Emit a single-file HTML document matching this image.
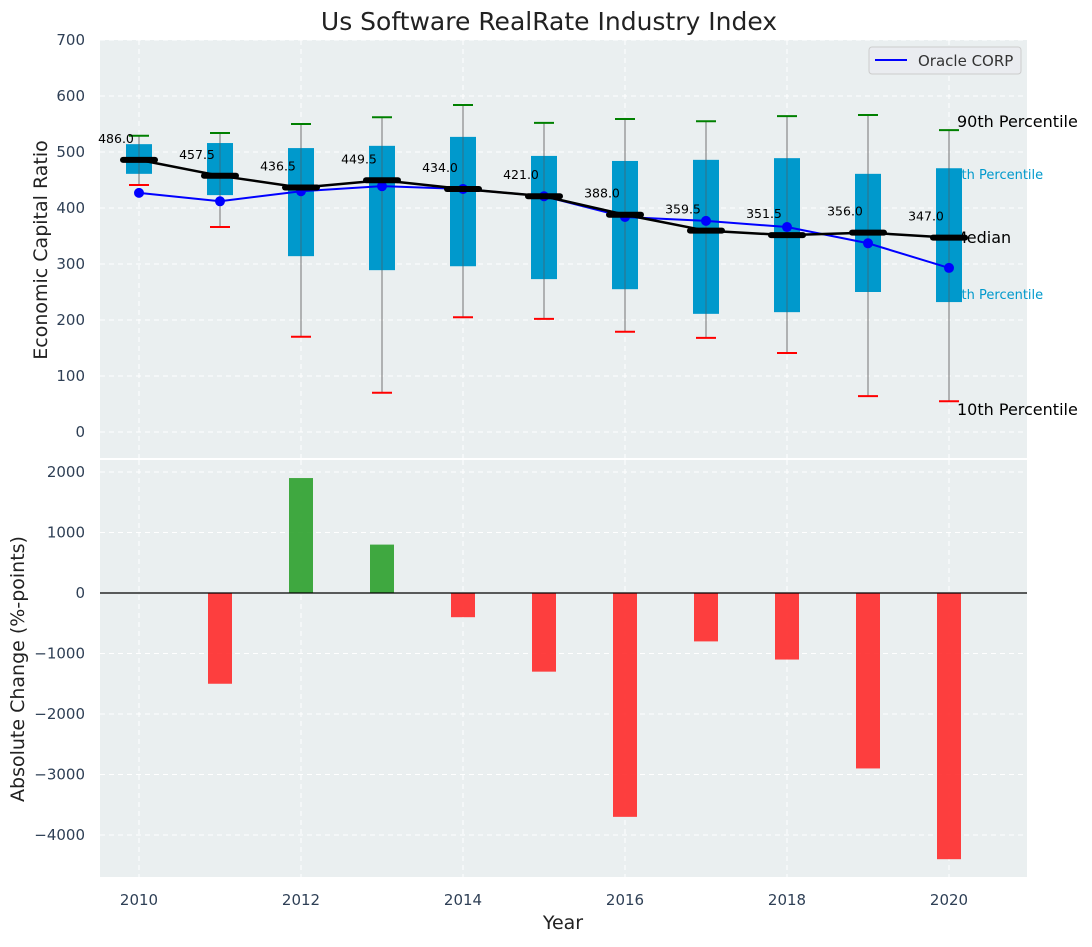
<!DOCTYPE html>
<html><head><meta charset="utf-8"><style>
body{margin:0;background:#fff;font-family:"Liberation Sans","DejaVu Sans",sans-serif}
svg text{font-family:"DejaVu Sans","Liberation Sans",sans-serif}
</style></head><body>
<svg id="chart" width="1092" height="942" xmlns="http://www.w3.org/2000/svg">
<rect x="0" y="0" width="1092" height="942" fill="#fff"/>
<text x="549" y="30" font-size="25" text-anchor="middle" fill="#222">Us Software RealRate Industry Index</text>
<rect x="100" y="40" width="927" height="418" fill="#eaeff0"/>
<rect x="100" y="460" width="927" height="417" fill="#eaeff0"/>
<g id="grid"></g>
<g id="top"></g>
<g id="bottom"></g>
<g id="ticks"></g>
<text transform="translate(47,250) rotate(-90)" font-size="19" text-anchor="middle" fill="#222">Economic Capital Ratio</text>
<text transform="translate(24,669) rotate(-90)" font-size="19" text-anchor="middle" fill="#222">Absolute Change (%-points)</text>
<text x="563" y="929" font-size="19" text-anchor="middle" fill="#222">Year</text>
<g>
<rect x="869" y="47" width="152" height="27" rx="3" fill="#eaecf0" stroke="#ccc"/>
<line x1="875" y1="60" x2="907" y2="60" stroke="#0000ff" stroke-width="2"/>
<text x="918" y="66" font-size="15" fill="#333">Oracle CORP</text>
</g>
</svg>
<script>
const years=[2010,2011,2012,2013,2014,2015,2016,2017,2018,2019,2020];
const p90=[529,534,550,562,584,552,559,555,564,566,539];
const p75=[514,516,507,511,527,493,484,486,489,461,471];
const medians=[486.0,457.5,436.5,449.5,434.0,421.0,388.0,359.5,351.5,356.0,347.0];
const p25=[461,423,314,289,296,273,255,211,214,250,232];
const p10=[441,366,170,70,205,202,179,168,141,64,55];
const oracle=[427,412,430,439,434,421,384,377,366,337,293];
const changes=[0,-1500,1900,800,-400,-1300,-3700,-800,-1100,-2900,-4400];
const topTicks=[0,100,200,300,400,500,600,700];
const botTicks=[-4000,-3000,-2000,-1000,0,1000,2000];
const xTicks=[2010,2012,2014,2016,2018,2020];
const NS="http://www.w3.org/2000/svg";
const X=v=>139+(v-2010)*81;
const Y1=v=>432-v*0.56;
const Y2=v=>593-v*0.0605;
function mk(parent,tag,attrs,text){const e=document.createElementNS(NS,tag);for(const k in attrs)e.setAttribute(k,attrs[k]);if(text!==undefined)e.textContent=text;document.getElementById(parent).appendChild(e);return e;}
xTicks.forEach(t=>{
 let g=mk('grid','line',{x1:X(t),x2:X(t),y1:40,y2:458,stroke:'#fff','stroke-dasharray':'5,4','stroke-width':1});
 
 
 g=mk('grid','line',{x1:X(t),x2:X(t),y1:460,y2:877,stroke:'#fff','stroke-dasharray':'5,4','stroke-width':1});
 
 
 const l=mk('ticks','text',{x:X(t),y:905,'font-size':15,'text-anchor':'middle',fill:'#2e3f55'},String(t));
 
 
});
topTicks.forEach(t=>{
 const g=mk('grid','line',{x1:100,x2:1027,y1:Y1(t),y2:Y1(t),stroke:'#fff','stroke-dasharray':'5,4'});
 
 
 const l=mk('ticks','text',{x:85,y:Y1(t)+5,'font-size':15,'text-anchor':'end',fill:'#2e3f55'},String(t));
 
 
});
botTicks.forEach(t=>{
 const g=mk('grid','line',{x1:100,x2:1027,y1:Y2(t),y2:Y2(t),stroke:'#fff','stroke-dasharray':'5,4'});
 
 
 const l=mk('ticks','text',{x:85,y:Y2(t)+5,'font-size':15,'text-anchor':'end',fill:'#2e3f55'},String(t).replace('-','\u2212'));
 
 
});
const ann=[['90th Percentile',957,127,16,'#000'],['75th Percentile',945,179,13,'#0099cc'],['Median',953,243,16,'#000'],['25th Percentile',945,299,13,'#0099cc'],['10th Percentile',957,415,16,'#000']];
ann.forEach(a=>{const t=mk('top','text',{x:a[1],y:a[2],'font-size':a[3],fill:a[4]},a[0]);
 
 });
years.forEach((yr,i)=>{
 const x=X(yr);
 const w=mk('top','line',{x1:x,x2:x,y1:Y1(p90[i]),y2:Y1(p10[i]),stroke:'#888','stroke-width':1.2});
 
 
 const b=mk('top','rect',{x:x-13,y:Y1(p75[i]),width:26,height:Y1(p25[i])-Y1(p75[i]),fill:'#0099cc'});
 
 
 const w2=mk('top','line',{x1:x,x2:x,y1:Y1(p75[i]),y2:Y1(p25[i]),stroke:'#555','stroke-width':1,opacity:0.6});
 
 
 const c1=mk('top','line',{x1:x-10,x2:x+10,y1:Y1(p90[i]),y2:Y1(p90[i]),stroke:'#008000','stroke-width':2});
 
 
 const c2=mk('top','line',{x1:x-10,x2:x+10,y1:Y1(p10[i]),y2:Y1(p10[i]),stroke:'#ff0000','stroke-width':2});
 
 
});
const op=mk('top','polyline',{points:years.map((y,i)=>X(y)+','+Y1(oracle[i])).join(' '),fill:'none',stroke:'#0000ff','stroke-width':2});


years.forEach((y,i)=>{const c=mk('top','circle',{cx:X(y),cy:Y1(oracle[i]),r:5,fill:'#0000ff'});
 
 });
const mp=mk('top','polyline',{points:years.map((y,i)=>X(y)+','+Y1(medians[i])).join(' '),fill:'none',stroke:'#000','stroke-width':2.5});


years.forEach((y,i)=>{
 const m=mk('top','line',{x1:X(y)-16,x2:X(y)+16,y1:Y1(medians[i]),y2:Y1(medians[i]),stroke:'#000','stroke-width':6,'stroke-linecap':'round'});
 
 
 const t=mk('top','text',{x:X(y)-23,y:Y1(medians[i])-17,'font-size':12.5,'text-anchor':'middle',fill:'#000'},medians[i].toFixed(1));
 
 
});
years.forEach((y,i)=>{
 const v=changes[i]; if(v===0)return;
 const r=mk('bottom','rect',{x:X(y)-12,y:Math.min(Y2(v),Y2(0)),width:24,height:Math.abs(Y2(v)-Y2(0)),fill:v>0?'#2ca02c':'#ff2a2a',opacity:0.9});
 
 
});
const z=mk('bottom','line',{x1:100,x2:1027,y1:Y2(0),y2:Y2(0),stroke:'#000','stroke-width':1.2});


</script>
</body></html>
